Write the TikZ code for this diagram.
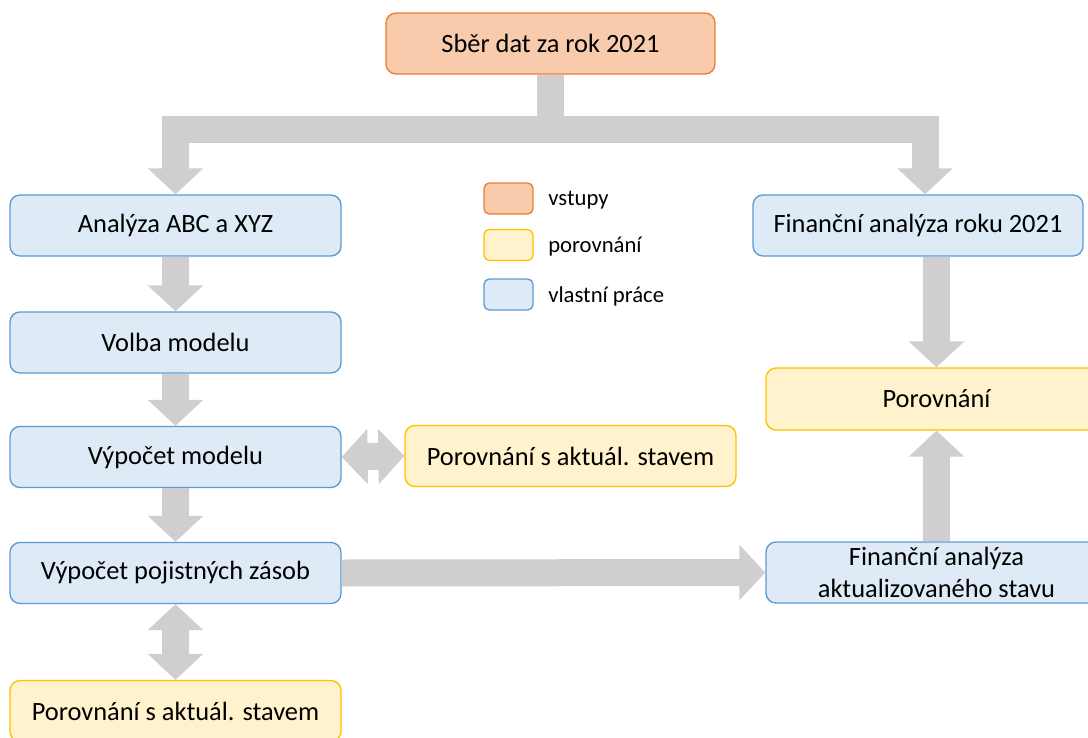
\documentclass[tikz,border=0pt]{standalone}
\usepackage{fontspec}
\setmainfont{Carlito}
\usetikzlibrary{arrows.meta,calc}

\definecolor{vstupfill}{HTML}{F8CBAD}
\definecolor{vstupline}{HTML}{ED7D31}
\definecolor{porfill}{HTML}{FFF2CC}
\definecolor{porline}{HTML}{FFC000}
\definecolor{pracefill}{HTML}{DEEBF7}
\definecolor{praceline}{HTML}{5B9BD5}
\definecolor{sipkagray}{HTML}{D0CECE}

\begin{document}
\begin{tikzpicture}[x=.75pt,y=-.75pt,
    box/.style={draw,rounded corners=7.5pt,line width=1pt,minimum width=248.25pt,
        minimum height=45.75pt,inner sep=0pt,align=center,
        font=\fontsize{19.8}{24}\selectfont},
    vstup/.style={box,draw=vstupline,fill=vstupfill},
    porov/.style={box,draw=porline,fill=porfill},
    prace/.style={box,draw=praceline,fill=pracefill},
    legbox/.style={draw,rounded corners=4pt,line width=1pt,minimum width=36.75pt,
        minimum height=23.25pt,inner sep=0pt},
    legtext/.style={anchor=base west,inner sep=0pt,font=\fontsize{17}{20}\selectfont},
    sipka/.style={draw=sipkagray,line width=20.25pt,
        -{Triangle[width=40.5pt,length=19.5pt]}},
    dvojsipka/.style={draw=sipkagray,line width=20.25pt,
        {Triangle[width=40.5pt,length=19.5pt]}-{Triangle[width=40.5pt,length=19.5pt]}}
]

    \clip (0,0) rectangle (1088,738);

    % vstup
    \node[vstup,minimum width=246.75pt] (sber) at (550.5,43.5) {Sběr dat za rok 2021};

    % levy sloupec
    \node[prace] (abc)   at (175.5,225.5) {Analýza ABC a XYZ};
    \node[prace] (volba) at (175.5,342.5) {Volba modelu};
    \node[prace] (vypmod) at (175.5,457) {Výpočet modelu};
    \node[prace] (vyppoj) at (175.5,573) {Výpočet pojistných zásob};
    \node[porov] (porbot) at (175.5,711) {Porovnání s aktuál. stavem};
    \node[porov] (pormid) at (570.5,456) {Porovnání s aktuál. stavem};

    % pravy sloupec
    \node[prace,minimum width=247.5pt] (fin) at (918,225.5) {Finanční analýza roku 2021};
    \node[porov,minimum width=255.75pt,minimum height=46.5pt] (porr) at (936.5,399) {Porovnání};
    \node[prace,minimum width=255.75pt] (finakt) at (936.5,572.5) {Finanční analýza\\aktualizovaného stavu};

    % legenda
    \node[legbox,draw=vstupline,fill=vstupfill] (leg1) at (508.5,198.5) {};
    \node[legbox,draw=porline,fill=porfill] (leg2) at (508.5,245) {};
    \node[legbox,draw=praceline,fill=pracefill] (leg3) at (508.5,294.5) {};
    \node[legtext] (legt1) at (548,205) {vstupy};
    \node[legtext] (legt2) at (548,252) {porovnání};
    \node[legtext] (legt3) at (548,302) {vlastní práce};

    % sipky
    \draw[sipka] (sber.south) -- ++(0,54.5) -| (abc.north);
    \draw[sipka] (sber.south) -- ++(0,54.5) -| ($(fin.north)+(7,0)$);
    \draw[sipka] (abc.south) -- (volba.north);
    \draw[sipka] (volba.south) -- (vypmod.north);
    \draw[sipka] (vypmod.south) -- (vyppoj.north);
    \draw[dvojsipka] (vypmod.east) -- (pormid.west);
    \draw[dvojsipka] (vyppoj.south) -- (porbot.north);
    \draw[sipka] (vyppoj.east) -- (finakt.west);
    \draw[sipka] (fin.south -| porr.north) -- (porr.north);
    \draw[sipka] (finakt.north) -- (porr.south);

\end{tikzpicture}
\end{document}
